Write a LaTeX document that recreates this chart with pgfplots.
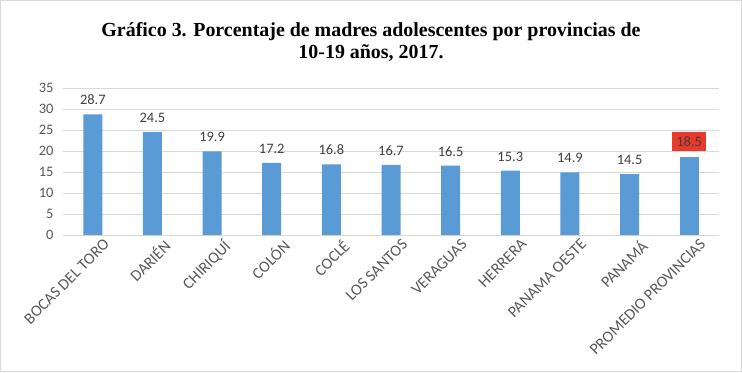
\documentclass[border=0pt]{standalone}
\usepackage{pgfplots}
\pgfplotsset{compat=1.18}
\usepackage{fontspec}
\setmainfont{Carlito}
\newfontfamily\titlefont{Liberation Serif}
\definecolor{barblue}{HTML}{5B9BD5}
\definecolor{txtgray}{HTML}{595959}
\definecolor{lblgray}{HTML}{404040}
\definecolor{gridgray}{HTML}{D9D9D9}
\definecolor{promred}{HTML}{E8392B}
\begin{document}
\begin{tikzpicture}[x=1bp,y=1bp]
\fill[white] (0,0) rectangle (742,372);
\draw[gridgray,line width=1bp] (0.5,0.5) rectangle (741.5,371.5);
\node[font=\titlefont\bfseries\fontsize{20}{23}\selectfont, align=center] at (371,330)
  {Gráfico 3. Porcentaje de madres adolescentes por provincias de\\10-19 años, 2017.};
\begin{axis}[
  at={(63bp,137bp)}, anchor=south west,
  scale only axis, width=656bp, height=147bp,
  xmin=-0.5, xmax=10.5, ymin=0, ymax=35,
  ytick={0,5,...,35},
  xtick={0,...,10},
  xticklabels={BOCAS DEL TORO,DARIÉN,CHIRIQUÍ,COLÓN,COCLÉ,LOS SANTOS,VERAGUAS,HERRERA,PANAMA OESTE,PANAMÁ,PROMEDIO PROVINCIAS},
  x tick label style={rotate=45, anchor=north east, font=\fontsize{16}{18}\selectfont, text=txtgray, inner sep=1bp, xshift=6bp, yshift=-8bp},
  y tick label style={font=\fontsize{14.5}{16}\selectfont, text=txtgray, xshift=-6bp},
  /pgf/number format/assume math mode=true,
  yticklabel={\pgfmathprintnumber[fixed,precision=0]{\tick}},
  ymajorgrids, grid style={gridgray, line width=0.8bp},
  axis x line*=bottom, axis y line*=left,
  y axis line style={draw=none},
  x axis line style={gridgray, line width=0.8bp, -},
  major tick length=0pt,
  ybar, bar width=19bp, bar shift=0pt,
  nodes near coords={\pgfmathprintnumber[fixed,fixed zerofill,precision=1]{\pgfplotspointmeta}},
  every node near coord/.append style={font=\fontsize{14.5}{16}\selectfont, text=lblgray, yshift=6bp},
  clip=false,
]
\addplot[fill=barblue, draw=none] coordinates {(0,28.7) (1,24.5) (2,19.9) (3,17.2) (4,16.8) (5,16.7) (6,16.5) (7,15.3) (8,14.9) (9,14.5)};
\addplot[fill=barblue, draw=none, every node near coord/.append style={fill=promred, minimum width=34bp, minimum height=19bp, inner sep=1bp}] coordinates {(10,18.5)};
\end{axis}
\pgfresetboundingbox
\path (0,0) rectangle (742,372);
\end{tikzpicture}
\end{document}
